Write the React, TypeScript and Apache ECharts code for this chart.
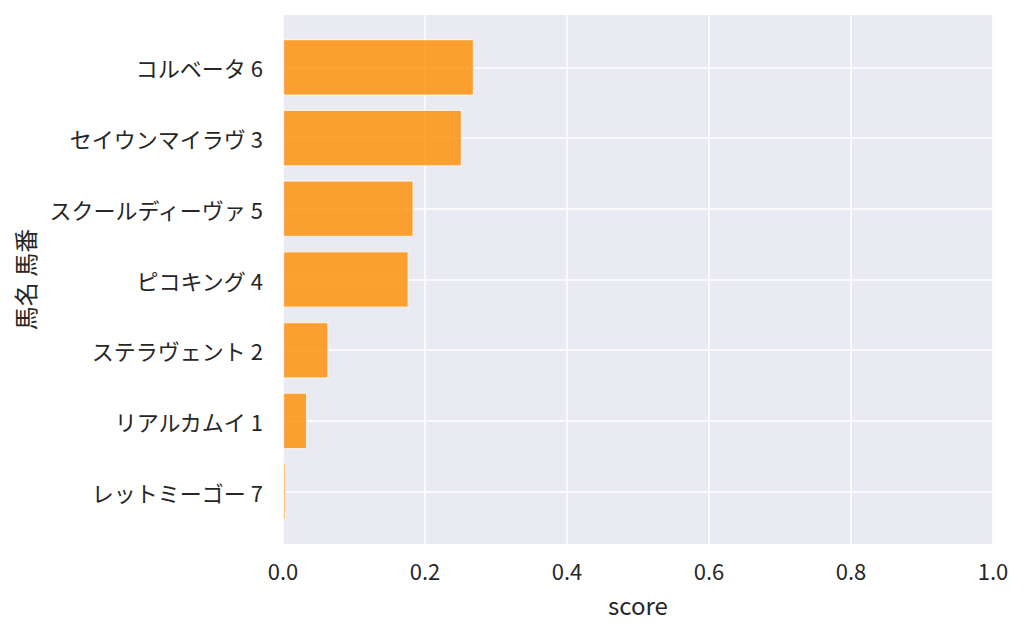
import React, { useEffect, useRef } from "react";
import * as echarts from "echarts";

const horseLabels = [
  "コルベータ 6",
  "セイウンマイラヴ 3",
  "スクールディーヴァ 5",
  "ピコキング 4",
  "ステラヴェント 2",
  "リアルカムイ 1",
  "レットミーゴー 7",
];
const scores = [0.269, 0.252, 0.184, 0.177, 0.064, 0.034, 0.004];
const xTicks = [0, 0.2, 0.4, 0.6, 0.8, 1.0];

const FONT = "'Noto Sans CJK JP', 'Noto Sans', sans-serif";
const TEXT = "#262626";

export default function App() {
  const ref = useRef<HTMLDivElement>(null);
  useEffect(() => {
    if (!ref.current) return;
    const chart = echarts.init(ref.current, undefined, { renderer: "svg" });
    const xMin = xTicks[0];
    const xMax = xTicks[xTicks.length - 1];
    chart.setOption({
      animation: false,
      textStyle: { fontFamily: FONT },
      grid: [
        {
          left: 283,
          right: 31,
          top: 15,
          bottom: 90,
          show: true,
          backgroundColor: "#eaeaf2",
          borderWidth: 0,
          containLabel: false,
        },
        {
          left: 283,
          right: 31,
          top: 32,
          bottom: 107,
          show: false,
          containLabel: false,
        },
      ],
      xAxis: [
        {
          type: "value",
          gridIndex: 0,
          min: xMin,
          max: xMax,
          interval: 0.2,
          name: "score",
          nameLocation: "middle",
          nameGap: 48,
          nameTextStyle: { fontSize: 24, color: TEXT, fontFamily: FONT },
          axisLine: { show: false },
          axisTick: { show: false },
          axisLabel: {
            fontSize: 22,
            color: TEXT,
            margin: 15,
            fontFamily: FONT,
            formatter: (v: number) => v.toFixed(1),
          },
          splitLine: { show: true, lineStyle: { color: "#ffffff", width: 1.5 } },
        },
        {
          type: "value",
          gridIndex: 1,
          min: xMin,
          max: xMax,
          show: false,
          splitLine: { show: false },
        },
      ],
      yAxis: [
        {
          type: "value",
          gridIndex: 0,
          show: false,
          splitLine: { show: false },
        },
        {
          type: "category",
          gridIndex: 1,
          data: horseLabels,
          inverse: true,
          name: "馬名 馬番",
          nameLocation: "middle",
          nameRotate: 90,
          nameGap: 247,
          nameTextStyle: { fontSize: 24, color: TEXT, fontFamily: FONT },
          axisLine: { show: false },
          axisTick: { show: false, alignWithLabel: true },
          axisLabel: { fontSize: 22, color: TEXT, margin: 20, fontFamily: FONT },
          splitLine: {
            show: true,
            alignWithLabel: true,
            lineStyle: { color: "#ffffff", width: 1.5 },
          },
        },
      ],
      series: [
        {
          type: "bar",
          xAxisIndex: 1,
          yAxisIndex: 1,
          data: scores,
          barWidth: "80%",
          itemStyle: {
            color: "rgba(255,140,0,0.8)",
            borderColor: "rgba(255,255,255,0.7)",
            borderWidth: 1.2,
          },
        },
      ],
    });
    return () => chart.dispose();
  }, []);
  return (
    <div
      ref={ref}
      style={{ position: "fixed", left: 0, top: 0, width: 1024, height: 634, background: "#ffffff" }}
    />
  );
}
